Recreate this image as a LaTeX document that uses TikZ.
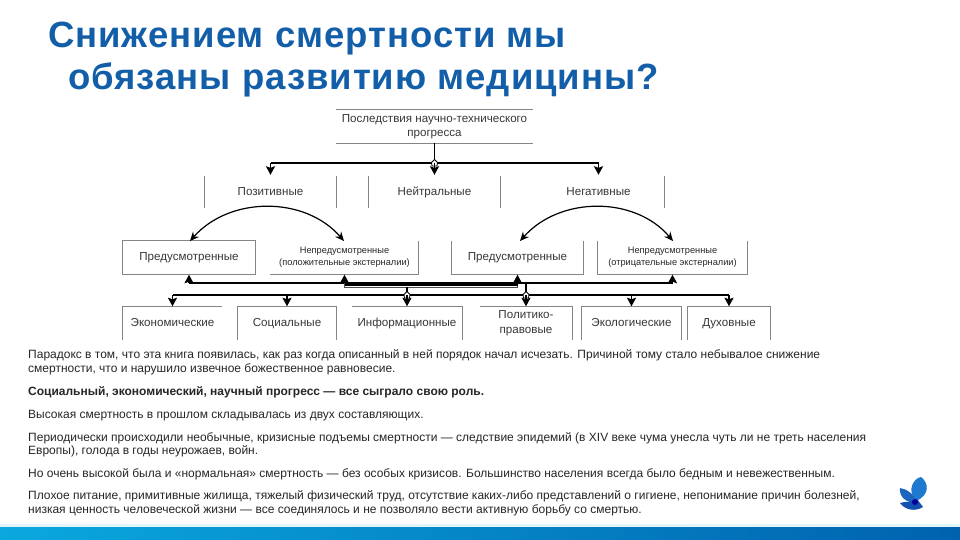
\documentclass[tikz,border=0pt]{standalone}
\usepackage{fontspec}
\setmainfont{Liberation Sans}
\usetikzlibrary{arrows.meta,calc}
\definecolor{titlecol}{HTML}{125EA8}
\definecolor{bodycol}{HTML}{262626}
\definecolor{framecol}{HTML}{858585}
\definecolor{bandL}{HTML}{0AA8DE}
\definecolor{bandR}{HTML}{0062AE}
\tikzset{
  x=1pt,y=-1pt,
  titletext/.style={anchor=base west,inner sep=0pt,text=titlecol,font=\fontsize{36.5}{36.5}\selectfont\bfseries\addfontfeature{LetterSpace=2.7}},
  bodytext/.style={anchor=base west,inner sep=0pt,text=bodycol,font=\fontsize{12}{14}\selectfont},
  boxnode/.style={inner sep=0pt,align=center,text=black!78,font=\fontsize{11.6}{15}\selectfont},
  oneline/.style={text height=8.5pt,text depth=2pt},
  smallbox/.style={inner sep=0pt,align=center,text=black!85,font=\fontsize{9.25}{12.5}\selectfont},
  frame/.style={draw=framecol,line width=0.7pt},
  bus/.style={draw=black,line width=1.7pt},
  tip/.style={-{Stealth[length=8.5pt,width=9pt,inset=1.5pt]}},
  arc/.style={draw=black,line width=1.2pt,{Stealth[length=9pt,width=8pt]}-{Stealth[length=9pt,width=8pt]}},
  crossing/.style={draw=black,line width=0.8pt,fill=white},
}
\begin{document}
\begin{tikzpicture}
\useasboundingbox (0,0) rectangle (960,540);
\fill[white] (0,0) rectangle (960,540);
% footer band
\shade[left color=bandL,right color=bandR] (0,527) rectangle (960,540);
\fill[bandL!12] (0,524) rectangle (960,527);
% title
\node[titletext] (t1) at (48,48) {Снижением смертности мы};
\node[titletext] (t2) at (68,90) {обязаны развитию медицины?};
% nodes
\node[boxnode,minimum width=197pt,minimum height=33pt,font=\fontsize{11.6}{14}\selectfont] (top) at (434.5,126.5) {Последствия научно-технического\\прогресса};
\node[boxnode,oneline,minimum width=131pt,minimum height=32pt] (pos) at (270.5,192) {Позитивные};
\node[boxnode,oneline,minimum width=131pt,minimum height=32pt] (neu) at (434.5,192) {Нейтральные};
\node[boxnode,oneline,minimum width=131pt,minimum height=32pt] (neg) at (598.5,192) {Негативные};
\node[boxnode,oneline,minimum width=132pt,minimum height=33pt] (p1) at (189,257.5) {Предусмотренные};
\node[smallbox,minimum width=148pt,minimum height=33pt] (p2) at (344.5,257.5) {Непредусмотренные\\(положительные экстерналии)};
\node[boxnode,oneline,minimum width=131pt,minimum height=33pt] (n1) at (517.5,257.5) {Предусмотренные};
\node[smallbox,minimum width=149pt,minimum height=33pt] (n2) at (672.5,257.5) {Непредусмотренные\\(отрицательные экстерналии)};
\node[boxnode,oneline,minimum width=99pt,minimum height=33pt] (r1) at (172.5,323.5) {Экономические};
\node[boxnode,oneline,minimum width=98pt,minimum height=33pt] (r2) at (287,323.5) {Социальные};
\node[boxnode,oneline,minimum width=110pt,minimum height=33pt] (r3) at (407,323.5) {Информационные};
\node[boxnode,minimum width=92pt,minimum height=33pt] (r4) at (526,323.5) {Политико-\\правовые};
\node[boxnode,oneline,minimum width=99pt,minimum height=33pt] (r5) at (631.5,323.5) {Экологические};
\node[boxnode,oneline,minimum width=82pt,minimum height=33pt] (r6) at (729,323.5) {Духовные};
% partial frames
\draw[frame] (top.north west) -- (top.north east) (top.south west) -- (top.south east);
\draw[frame] (pos.north west) -- (pos.south west) (pos.north east) -- (pos.south east);
\draw[frame] (neu.north west) -- (neu.south west) (neu.north east) -- (neu.south east);
\draw[frame] (neg.north east) -- (neg.south east);
\draw[frame] (p1.north west) rectangle (p1.south east);
\draw[frame] (p2.south west) -- (p2.south east) -- (p2.north east);
\draw[frame] (n1.north west) -- (n1.south west) -- (n1.south east) -- (n1.north east);
\draw[frame] (n2.north west) -- (n2.south west) -- (n2.south east) -- (n2.north east);
\draw[frame] (r1.south west) -- (r1.north west) -- (r1.north east);
\draw[frame] (r2.south west) -- (r2.north west) -- (r2.north east) -- (r2.south east);
\draw[frame] (r3.north west) -- (r3.north east) -- (r3.south east);
\draw[frame] (r4.north west) -- (r4.north east) -- (r4.south east);
\draw[frame] (r5.south west) -- (r5.north west) -- (r5.north east) -- (r5.south east);
\draw[frame] (r6.south west) -- (r6.north west) -- (r6.north east) -- (r6.south east);
% upper tree
\coordinate (j0) at (top.south |- 0,163);
\coordinate (j1) at (pos.north |- 0,163);
\coordinate (j3) at (neg.north |- 0,163);
\draw[bus] (j1) -- (j3);
\draw[bus] (top.south) -- (j0);
\draw[crossing] ($(j0)+(0,-3.5)$) -- ++(3,3) -- ++(-0.5,3.5) -- ++(-5,0) -- ++(-0.5,-3.5) -- cycle;
\draw[bus,tip] (j0) -- ($(neu.north)+(0,-1)$);
\draw[bus,tip] (j1) -- ($(pos.north)+(0,-1)$);
\draw[bus,tip] (j3) -- ($(neg.north)+(0,-1)$);
% arcs
\draw[arc] (190,241) .. controls (230,196) and (305,196) .. (344,241);
\draw[arc] (520,241) .. controls (560,196) and (635,196) .. (673,241);
% middle bus
\coordinate (m1) at (p1.south |- 0,283);
\coordinate (m2) at (p2.south |- 0,283);
\coordinate (m3) at (n1.south |- 0,283);
\coordinate (m4) at (n2.south |- 0,283);
\draw[bus] (m1) -- (m2);
\draw[bus] (m3) -- (m4);
\draw[draw=black!70,line width=0.9pt] (m2) -- ++(0,4) -- ($(m3)+(0,4)$) -- (m3);
\draw[draw=black,line width=3.4pt] (m2) ++(0,1) -- ($(m3)+(0,1)$);
\draw[bus,tip] (m1) -- ($(p1.south)+(0,0.5)$);
\draw[bus,tip] (m2) -- ($(p2.south)+(0,0.5)$);
\draw[bus,tip] (m3) -- ($(n1.south)+(0,0.5)$);
\draw[bus,tip] (m4) -- ($(n2.south)+(0,0.5)$);
% lower tree
\coordinate (b1) at (r1.north |- 0,295);
\coordinate (b2) at (r2.north |- 0,295);
\coordinate (b3) at (r3.north |- 0,295);
\coordinate (b4) at (r4.north |- 0,295);
\coordinate (b5) at (r5.north |- 0,295);
\coordinate (b6) at (r6.north |- 0,295);
\draw[bus] (b1) -- (b6);
\draw[bus] (r3.north |- 0,287) -- (b3);
\draw[bus] (r4.north |- 0,283) -- (b4);
\draw[crossing] ($(b3)+(0,-3.5)$) -- ++(3,3) -- ++(-0.5,3.5) -- ++(-5,0) -- ++(-0.5,-3.5) -- cycle;
\draw[crossing] ($(b4)+(0,-3.5)$) -- ++(3,3) -- ++(-0.5,3.5) -- ++(-5,0) -- ++(-0.5,-3.5) -- cycle;
\draw[bus,tip] (b1) -- ($(r1.north)+(0,-0.5)$);
\draw[bus,tip] (b2) -- ($(r2.north)+(0,-0.5)$);
\draw[bus,tip] (b3) -- ($(r3.north)+(0,-0.5)$);
\draw[bus,tip] (b4) -- ($(r4.north)+(0,-0.5)$);
\draw[bus,tip] (b5) -- ($(r5.north)+(0,-0.5)$);
\draw[bus,tip] (b6) -- ($(r6.north)+(0,-0.5)$);
% body text
\node[bodytext] (l1) at (28,358) {Парадокс в том, что эта книга появилась, как раз когда описанный в ней порядок начал исчезать. Причиной тому стало небывалое снижение};
\node[bodytext] (l2) at (28,372) {смертности, что и нарушило извечное божественное равновесие.};
\node[bodytext,font=\fontsize{12}{14}\selectfont\bfseries] (l3) at (28,395) {Социальный, экономический, научный прогресс — все сыграло свою роль.};
\node[bodytext] (l4) at (28,418) {Высокая смертность в прошлом складывалась из двух составляющих.};
\node[bodytext] (l5) at (28,441) {Периодически происходили необычные, кризисные подъемы смертности — следствие эпидемий (в XIV веке чума унесла чуть ли не треть населения};
\node[bodytext] (l6) at (28,454) {Европы), голода в годы неурожаев, войн.};
\node[bodytext] (l7) at (28,477) {Но очень высокой была и «нормальная» смертность — без особых кризисов. Большинство населения всегда было бедным и невежественным.};
\node[bodytext] (l8) at (28,499) {Плохое питание, примитивные жилища, тяжелый физический труд, отсутствие каких-либо представлений о гигиене, непонимание причин болезней,};
\node[bodytext] (l9) at (28,513) {низкая ценность человеческой жизни — все соединялось и не позволяло вести активную борьбу со смертью.};
% logo
\definecolor{wingA}{HTML}{1E7ACF}
\definecolor{wingB}{HTML}{1A66BE}
\definecolor{wingC}{HTML}{1450B0}
\fill[wingA] (916,501) .. controls (906,490) and (914,478) .. (921,477) .. controls (929,483) and (930,495) .. (916,501) -- cycle;
\fill[wingB] (917,503) .. controls (914,494) and (907,489) .. (900,488) .. controls (899,496) and (905,503) .. (917,503) -- cycle;
\fill[wingC] (917,499) .. controls (912,503) and (905,501) .. (900,503) .. controls (905,510) and (915,512) .. (923,507) -- cycle;
\fill[blue!60!black] (915,502) circle (3);
\end{tikzpicture}
\end{document}
